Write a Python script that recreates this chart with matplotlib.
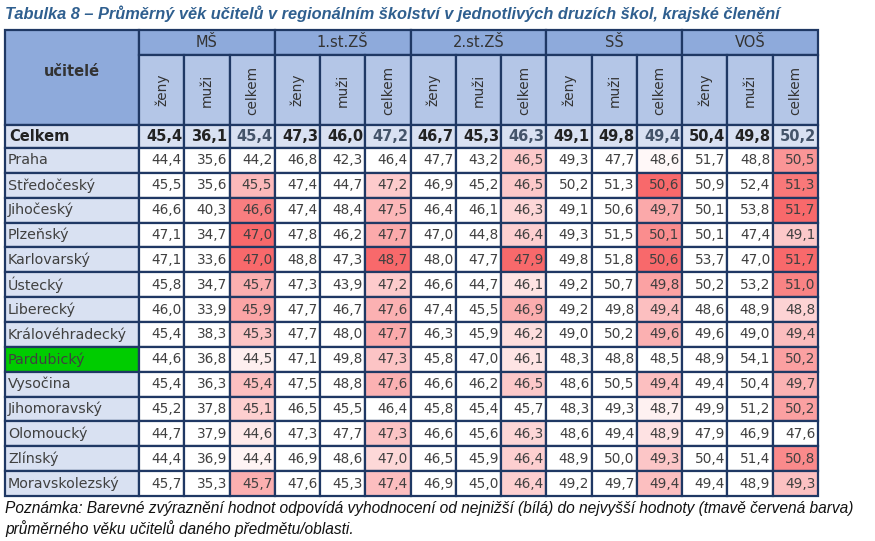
import matplotlib
matplotlib.use("Agg")
import matplotlib.pyplot as plt
from matplotlib.patches import Rectangle
import numpy as np

title = "Tabulka 8 – Průměrný věk učitelů v regionálním školství v jednotlivých druzích škol, krajské členění"
note1 = "Poznámka: Barevné zvýraznění hodnot odpovídá vyhodnocení od nejnižší (bílá) do nejvyšší hodnoty (tmavě červená barva)"
note2 = "průměrného věku učitelů daného předmětu/oblasti."
groups = ["MŠ", "1.st.ZŠ", "2.st.ZŠ", "SŠ", "VOŠ"]
subcols = ["ženy", "muži", "celkem"]
total_label = "Celkem"
total_vals = [45.4, 36.1, 45.4, 47.3, 46.0, 47.2, 46.7, 45.3, 46.3, 49.1, 49.8, 49.4, 50.4, 49.8, 50.2]
regions = ["Praha", "Středočeský", "Jihočeský", "Plzeňský", "Karlovarský", "Ústecký", "Liberecký",
           "Královéhradecký", "Pardubický", "Vysočina", "Jihomoravský", "Olomoucký", "Zlínský", "Moravskolezský"]
values = [
    [44.4, 35.6, 44.2, 46.8, 42.3, 46.4, 47.7, 43.2, 46.5, 49.3, 47.7, 48.6, 51.7, 48.8, 50.5],
    [45.5, 35.6, 45.5, 47.4, 44.7, 47.2, 46.9, 45.2, 46.5, 50.2, 51.3, 50.6, 50.9, 52.4, 51.3],
    [46.6, 40.3, 46.6, 47.4, 48.4, 47.5, 46.4, 46.1, 46.3, 49.1, 50.6, 49.7, 50.1, 53.8, 51.7],
    [47.1, 34.7, 47.0, 47.8, 46.2, 47.7, 47.0, 44.8, 46.4, 49.3, 51.5, 50.1, 50.1, 47.4, 49.1],
    [47.1, 33.6, 47.0, 48.8, 47.3, 48.7, 48.0, 47.7, 47.9, 49.8, 51.8, 50.6, 53.7, 47.0, 51.7],
    [45.8, 34.7, 45.7, 47.3, 43.9, 47.2, 46.6, 44.7, 46.1, 49.2, 50.7, 49.8, 50.2, 53.2, 51.0],
    [46.0, 33.9, 45.9, 47.7, 46.7, 47.6, 47.4, 45.5, 46.9, 49.2, 49.8, 49.4, 48.6, 48.9, 48.8],
    [45.4, 38.3, 45.3, 47.7, 48.0, 47.7, 46.3, 45.9, 46.2, 49.0, 50.2, 49.6, 49.6, 49.0, 49.4],
    [44.6, 36.8, 44.5, 47.1, 49.8, 47.3, 45.8, 47.0, 46.1, 48.3, 48.8, 48.5, 48.9, 54.1, 50.2],
    [45.4, 36.3, 45.4, 47.5, 48.8, 47.6, 46.6, 46.2, 46.5, 48.6, 50.5, 49.4, 49.4, 50.4, 49.7],
    [45.2, 37.8, 45.1, 46.5, 45.5, 46.4, 45.8, 45.4, 45.7, 48.3, 49.3, 48.7, 49.9, 51.2, 50.2],
    [44.7, 37.9, 44.6, 47.3, 47.7, 47.3, 46.6, 45.6, 46.3, 48.6, 49.4, 48.9, 47.9, 46.9, 47.6],
    [44.4, 36.9, 44.4, 46.9, 48.6, 47.0, 46.5, 45.9, 46.4, 48.9, 50.0, 49.3, 50.4, 51.4, 50.8],
    [45.7, 35.3, 45.7, 47.6, 45.3, 47.4, 46.9, 45.0, 46.4, 49.2, 49.7, 49.4, 49.4, 48.9, 49.3],
]
highlight_region = "Pardubický"

fig = plt.figure(figsize=(8.75, 5.41), dpi=100)
ax = fig.add_axes([0, 0, 1, 1])
ax.set_xlim(0, 875); ax.set_ylim(541, 0); ax.axis("off")

x0, xl, x1 = 5, 139, 818
cw = (x1 - xl) / 15
y0, y1, y2, y3 = 30, 55, 125, 148
rh = (496 - y3) / 14
border = "#1f3864"
hdr1, hdr2, lab = "#8eaadb", "#b4c6e7", "#d9e1f2"
txt = "#404040"
fnt = "DejaVu Sans"
fs = 9.8

def fmt(v):
    return f"{v:.1f}".replace(".", ",")

def cell(x, y, w, h, fc):
    ax.add_patch(Rectangle((x, y), w, h, facecolor=fc, edgecolor=border, lw=1.6))

ax.text(5, 14, title, fontsize=11.8, fontweight="bold", style="italic", color="#2f5f8f",
        family="Liberation Sans", va="center", ha="left")

# header
cell(x0, y0, xl - x0, y2 - y0, hdr1)
ax.text((x0 + xl) / 2, (y0 + y2) / 2 - 6, "učitelé", fontsize=10.5, fontweight="bold", color="#333333",
        family=fnt, ha="center", va="center")
for g, name in enumerate(groups):
    gx = xl + g * 3 * cw
    cell(gx, y0, 3 * cw, y1 - y0, hdr1)
    ax.text(gx + 1.5 * cw, (y0 + y1) / 2, name, fontsize=10.5, color="#333333", family=fnt, ha="center", va="center")
    for s, sn in enumerate(subcols):
        sx = gx + s * cw
        cell(sx, y1, cw, y2 - y1, hdr2)
        ax.text(sx + cw / 2, (y1 + y2) / 2, sn, fontsize=fs, color="#333333", family=fnt, rotation=90,
                ha="center", va="center")

# total row
cell(x0, y2, xl - x0, y3 - y2, lab)
ax.text(x0 + 4, (y2 + y3) / 2, total_label, fontsize=10.5, fontweight="bold", color="#222222",
        family=fnt, ha="left", va="center")
for j, v in enumerate(total_vals):
    sx = xl + j * cw
    cell(sx, y2, cw, y3 - y2, lab)
    col = "#44546a" if j % 3 == 2 else "#222222"
    ax.text(sx + cw - 2, (y2 + y3) / 2, fmt(v), fontsize=10.5, fontweight="bold", color=col,
            family=fnt, ha="right", va="center")

vals = np.array(values)
white = np.array([1, 1, 1]); red = np.array([0xf8, 0x69, 0x6b]) / 255
for i, r in enumerate(regions):
    y = y3 + i * rh
    cell(x0, y, xl - x0, rh, "#00cc00" if r == highlight_region else lab)
    ax.text(x0 + 3, y + rh / 2, r, fontsize=10.3, color=txt, family=fnt, ha="left", va="center")
    for j in range(15):
        sx = xl + j * cw
        fc = "white"
        if j % 3 == 2:
            colv = vals[:, j]
            t = (vals[i, j] - colv.min()) / (colv.max() - colv.min())
            fc = tuple(white + (red - white) * t)
        cell(sx, y, cw, rh, fc)
        ax.text(sx + cw - 2.5, y + rh / 2, fmt(vals[i, j]), fontsize=fs, color=txt, family=fnt,
                ha="right", va="center")

ax.text(5, 508, note1, fontsize=11.2, style="italic", family="Liberation Sans", color="#111111", va="center")
ax.text(5, 529, note2, fontsize=11.2, style="italic", family="Liberation Sans", color="#111111", va="center")

fig.savefig("out.png", dpi=100)
